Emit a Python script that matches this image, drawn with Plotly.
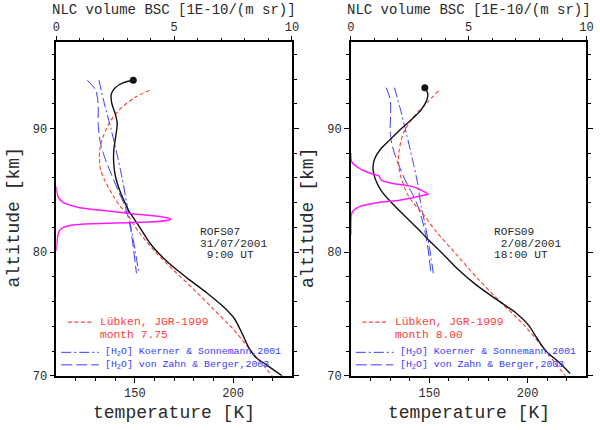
import plotly.graph_objects as go

# ---------------- data ----------------
alt_obs_07 = [93.9, 93.7, 93.3, 92.8, 92.0, 91.2, 90.4, 89.4, 88.3, 87.3, 86.2, 84.9, 83.7, 83.4,
              82.2, 80.6, 79.2, 77.9, 76.7, 75.6, 74.6, 73.3, 72.2, 71.5, 71.0, 70.5, 70.0]
T_obs_07 = [149.2, 144.2, 140.0, 138.0, 138.3, 140.0, 141.0, 140.3, 139.3, 139.2, 140.0, 142.5, 145.8, 146.7,
            151.7, 158.3, 166.7, 176.7, 186.7, 195.0, 200.8, 205.0, 208.3, 211.5, 216.0, 220.5, 225.0]
alt_lub_07 = [93.1, 92.5, 91.7, 90.6, 89.1, 88.1, 86.7, 85.7, 84.5, 83.7, 83.3, 81.7, 80.1, 78.5,
              77.0, 75.4, 73.8, 72.2, 70.0]
T_lub_07 = [157.5, 150.0, 143.3, 137.5, 133.3, 132.0, 132.5, 135.0, 139.2, 142.5, 145.0, 151.7, 160.0, 170.0,
            180.0, 190.0, 200.0, 208.3, 220.0]
alt_ks_07 = [93.9, 92.0, 90.0, 88.0, 86.0, 84.0, 82.0, 80.0, 78.3]
T_ks_07 = [131.7, 134.5, 137.8, 140.8, 143.5, 145.8, 148.0, 150.3, 152.0]
alt_vzb_07 = [93.9, 93.1, 92.0, 90.4, 88.8, 87.5, 86.2, 84.9, 83.7, 82.2, 80.4, 78.3]
T_vzb_07 = [125.8, 130.0, 131.3, 131.3, 132.5, 135.0, 138.3, 141.7, 145.0, 147.5, 149.2, 150.8]
alt_bsc_07 = [85.3, 84.8, 84.4, 84.0, 83.8, 83.6, 83.45, 83.3, 83.15, 83.0, 82.85, 82.7, 82.6, 82.5,
              82.42, 82.35, 82.3, 82.2, 82.0, 81.7, 81.2, 80.6, 80.1]
bsc_07 = [0.0, 0.03, 0.1, 0.3, 0.6, 1.0, 1.6, 2.3, 3.0, 3.8, 4.5, 4.85, 4.8, 4.4,
          3.6, 2.5, 1.5, 0.7, 0.3, 0.12, 0.05, 0.02, 0.0]

alt_obs_09 = [93.3, 92.8, 92.3, 91.5, 90.7, 90.0, 89.1, 88.3, 87.5, 86.7, 85.9, 84.9, 84.0, 83.0,
              82.0, 81.0, 80.0, 78.7, 77.4, 76.2, 75.1, 74.1, 73.0, 72.0, 71.1, 70.2]
T_obs_09 = [147.7, 149.2, 148.7, 145.8, 140.8, 135.8, 130.0, 125.0, 122.0, 121.3, 122.5, 125.8, 130.8, 137.0,
            143.5, 149.5, 156.0, 164.0, 173.5, 184.0, 194.0, 200.5, 205.0, 209.5, 216.0, 221.7]
alt_lub_09 = [93.05, 92.0, 90.9, 89.6, 88.3, 87.3, 85.9, 84.6, 83.7, 83.3, 81.7, 79.9, 77.8, 75.9,
              74.1, 72.2, 70.0]
T_lub_09 = [154.7, 148.3, 141.7, 136.7, 134.7, 134.2, 135.8, 139.2, 143.3, 145.8, 153.3, 163.3, 175.0, 186.7,
            198.3, 208.3, 219.2]
alt_ks_09 = [93.3, 91.7, 89.6, 87.3, 85.4, 83.7, 82.5, 80.4, 78.3]
T_ks_09 = [132.2, 135.0, 138.3, 141.7, 144.2, 145.8, 147.5, 150.0, 152.0]
alt_vzb_09 = [93.3, 92.4, 91.2, 89.9, 88.8, 87.5, 85.9, 84.6, 83.7, 82.2, 80.4, 78.3]
T_vzb_09 = [128.0, 130.0, 130.3, 130.0, 130.8, 133.3, 137.5, 141.7, 144.2, 147.0, 149.2, 150.8]
alt_bsc_09 = [88.0, 87.4, 87.1, 86.8, 86.6, 86.3, 86.2, 86.0, 85.8, 85.55, 85.3, 85.0, 84.8, 84.7,
              84.6, 84.4, 84.2, 84.0, 83.7, 83.5, 83.3, 83.0, 82.5, 81.4]
bsc_09 = [0.0, 0.02, 0.13, 0.35, 0.54, 0.96, 1.17, 1.25, 1.31, 1.79, 2.63, 3.0, 3.2, 3.29,
          3.11, 2.6, 2.07, 1.1, 0.4, 0.2, 0.08, 0.02, 0.0, 0.0]

# tick positions
T_major = [150, 200]
T_minor = [120, 130, 140, 160, 170, 180, 190, 210, 220]
bsc_major = [0, 5, 10]
bsc_minor = [1, 2, 3, 4, 6, 7, 8, 9]
alt_major = [70, 80, 90]
alt_minor = [72, 74, 76, 78, 82, 84, 86, 88, 92, 94, 96]

station_lines_07 = ["ROFS07", "31/07/2001", "\u00a09:00 UT"]
station_lines_09 = ["ROFS09", "\u00a02/08/2001", "18:00 UT"]
month_07 = "month 7.75"
month_09 = "month 8.00"

T_range = [110, 230]
alt_range = [70, 97]
bsc_range = [0, 10]

FONT = "Liberation Mono"
RED = "#ff3b3b"
BLUE = "#3a3aff"
MAG = "#ff1aff"
BLACK = "#111111"
TXT = "#2a2a2a"

fig = go.Figure()

panels = [
    dict(xT="x", xB="x2", y="y", domain=[53.3 / 600, 293.3 / 600],
         obs=(T_obs_07, alt_obs_07), lub=(T_lub_07, alt_lub_07), ks=(T_ks_07, alt_ks_07),
         vzb=(T_vzb_07, alt_vzb_07), bsc=(bsc_07, alt_bsc_07), lines=station_lines_07, month=month_07),
    dict(xT="x3", xB="x4", y="y2", domain=[353.3 / 600, 593.3 / 600],
         obs=(T_obs_09, alt_obs_09), lub=(T_lub_09, alt_lub_09), ks=(T_ks_09, alt_ks_09),
         vzb=(T_vzb_09, alt_vzb_09), bsc=(bsc_09, alt_bsc_09), lines=station_lines_09, month=month_09),
]

ydom = [(430 - 383.0) / 430, (430 - 42.7) / 430]

annotations = []
shapes = []

for p in panels:
    xT, xB, y = p["xT"], p["xB"], p["y"]
    fig.add_trace(go.Scatter(x=p["vzb"][0], y=p["vzb"][1], mode="lines", xaxis=xT, yaxis=y,
                             line=dict(color=BLUE, width=1, dash="11px,4px", shape="spline", smoothing=0.8),
                             showlegend=False))
    fig.add_trace(go.Scatter(x=p["ks"][0], y=p["ks"][1], mode="lines", xaxis=xT, yaxis=y,
                             line=dict(color=BLUE, width=1, dash="10px,3px,2px,3px", shape="spline", smoothing=0.8),
                             showlegend=False))
    fig.add_trace(go.Scatter(x=p["lub"][0], y=p["lub"][1], mode="lines", xaxis=xT, yaxis=y,
                             line=dict(color=RED, width=1.1, dash="4px,2.5px", shape="spline", smoothing=0.8),
                             showlegend=False))
    fig.add_trace(go.Scatter(x=p["bsc"][0], y=p["bsc"][1], mode="lines", xaxis=xB, yaxis=y,
                             line=dict(color=MAG, width=1.5, shape="spline", smoothing=0.6),
                             showlegend=False))
    fig.add_trace(go.Scatter(x=p["obs"][0], y=p["obs"][1], mode="lines", xaxis=xT, yaxis=y,
                             line=dict(color=BLACK, width=1.4, shape="spline", smoothing=0.8),
                             showlegend=False))
    fig.add_trace(go.Scatter(x=p["obs"][0][:1], y=p["obs"][1][:1], mode="markers", xaxis=xT, yaxis=y,
                             marker=dict(color=BLACK, size=7), showlegend=False))

    xd = xT + " domain"
    yd = y + " domain"
    for txt, yy in zip(p["lines"], [0.4299, 0.3947, 0.3614]):
        annotations.append(dict(text=txt, xref=xd, yref=yd, x=0.60, y=yy, xanchor="left",
                                yanchor="middle", showarrow=False,
                                font=dict(family=FONT, size=11.2, color=TXT)))
    shapes.append(dict(type="line", xref=xd, yref=yd, x0=0.049, x1=0.153, y0=0.161, y1=0.161,
                       line=dict(color=RED, width=1.1, dash="4px,2.5px")))
    shapes.append(dict(type="line", xref=xd, yref=yd, x0=0.021, x1=0.181, y0=0.0705, y1=0.0705,
                       line=dict(color=BLUE, width=1, dash="10px,3px,2px,3px")))
    shapes.append(dict(type="line", xref=xd, yref=yd, x0=0.021, x1=0.181, y0=0.033, y1=0.033,
                       line=dict(color=BLUE, width=1, dash="11px,4px")))
    annotations += [
        dict(text="Lübken, JGR-1999", xref=xd, yref=yd, x=0.178, y=0.161, xanchor="left", yanchor="middle",
             showarrow=False, font=dict(family=FONT, size=11.3, color=RED)),
        dict(text=p["month"], xref=xd, yref=yd, x=0.178, y=0.1234, xanchor="left", yanchor="middle",
             showarrow=False, font=dict(family=FONT, size=11.3, color=RED)),
        dict(text="[H<sub>2</sub>O] Koerner & Sonnemann,2001", xref=xd, yref=yd, x=0.199, y=0.0705,
             xanchor="left", yanchor="middle", showarrow=False, font=dict(family=FONT, size=9.9, color=BLUE)),
        dict(text="[H<sub>2</sub>O] von Zahn & Berger,2003", xref=xd, yref=yd, x=0.199, y=0.033,
             xanchor="left", yanchor="middle", showarrow=False, font=dict(family=FONT, size=9.9, color=BLUE)),
        dict(text="NLC volume BSC [1E-10/(m sr)]", xref=xd, yref="paper", x=0.5, y=(430 - 10.5) / 430,
             xanchor="center", yanchor="middle", showarrow=False, font=dict(family=FONT, size=14, color=TXT)),
        dict(text="temperature [K]", xref=xd, yref="paper", x=0.5, y=(430 - 420.5) / 430,
             xanchor="center", yanchor="middle", showarrow=False, font=dict(family=FONT, size=18, color=TXT)),
        dict(text="altitude [km]", xref=xd, yref="paper", x=-43.5 / 240, y=(430 - 222) / 430,
             xanchor="center", yanchor="middle", textangle=-90, showarrow=False,
             font=dict(family=FONT, size=18, color=TXT)),
    ]

tickfont = dict(family=FONT, size=12, color=TXT)
base = dict(showgrid=False, zeroline=False, showline=True, linecolor="black", linewidth=1.5,
            ticks="outside", ticklen=5, tickwidth=1.3, tickcolor="black", tickfont=tickfont)

def minor(vals):
    return dict(ticks="outside", ticklen=3, tickwidth=1.1, tickcolor="black", tickvals=vals)

def T_axis(anchor, domain):
    return dict(base, range=T_range, domain=domain, anchor=anchor, side="bottom",
                tickvals=T_major, minor=minor(T_minor))

def B_axis(anchor, overlay):
    return dict(base, range=bsc_range, anchor=anchor, overlaying=overlay, side="top",
                tickvals=bsc_major, ticklen=4, minor=dict(minor(bsc_minor), ticklen=2))

def A_axis(anchor):
    return dict(base, range=alt_range, domain=ydom, anchor=anchor, mirror="ticks",
                tickvals=alt_major, minor=minor(alt_minor))

fig.update_layout(
    width=600, height=430,
    margin=dict(l=0, r=0, t=0, b=0),
    paper_bgcolor="white", plot_bgcolor="white",
    xaxis=T_axis("y", panels[0]["domain"]),
    xaxis2=B_axis("y", "x"),
    yaxis=A_axis("x"),
    xaxis3=T_axis("y2", panels[1]["domain"]),
    xaxis4=B_axis("y2", "x3"),
    yaxis2=A_axis("x3"),
    annotations=annotations,
    shapes=shapes,
    font=dict(family=FONT, color=TXT),
)

fig.write_html("out.html")
